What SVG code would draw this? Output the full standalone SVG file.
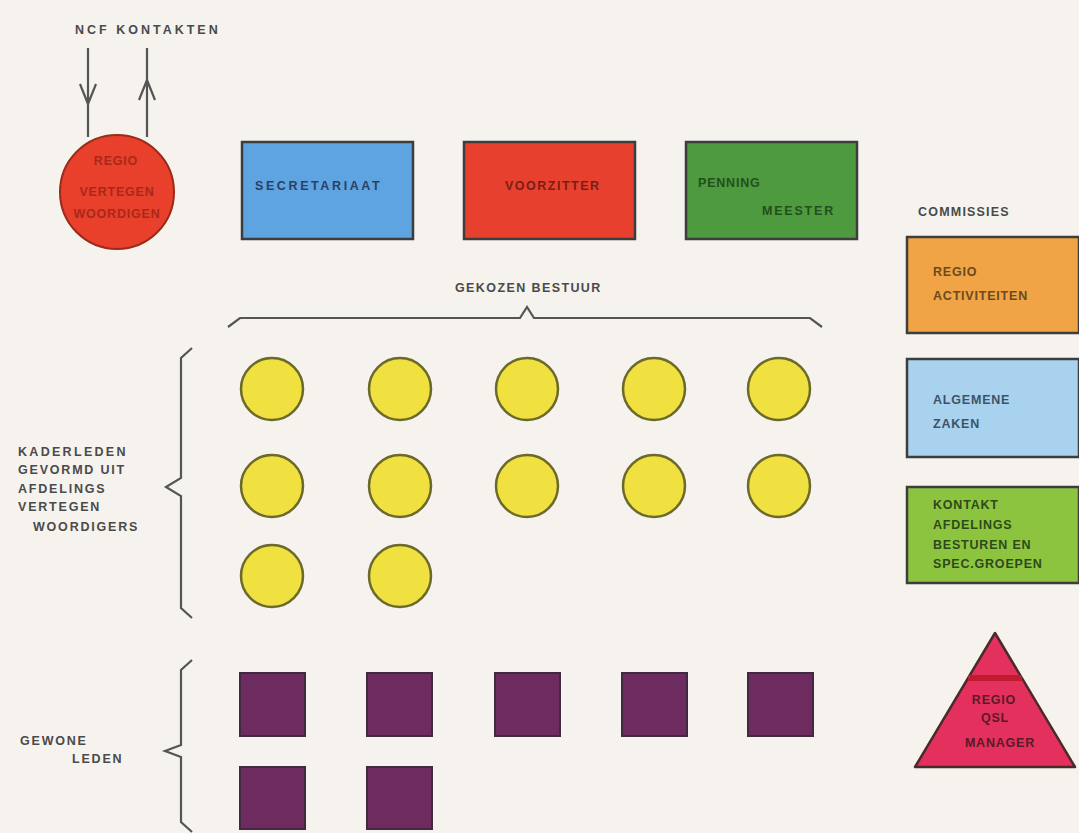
<svg xmlns="http://www.w3.org/2000/svg" width="1079" height="833" viewBox="0 0 1079 833">
<style>
.lbl{font-family:"Liberation Sans",Arial,sans-serif;font-size:12.5px;fill:#4a4a4a;letter-spacing:1.8px;font-weight:bold}
.in{font-family:"Liberation Sans",Arial,sans-serif;font-size:12.5px;letter-spacing:0.8px;font-weight:bold}
.box{stroke:#3d3d3d;stroke-width:2.5}
.dot{fill:#f0e040;stroke:#6b6a2a;stroke-width:2.5}
.sq{fill:#6e2b60;stroke:#3f2a40;stroke-width:2}
.ln{fill:none;stroke:#555;stroke-width:2.2;stroke-linejoin:miter}
</style>
<rect width="1079" height="833" fill="#f6f3ee"/>
<text class="lbl" x="75" y="34" style="letter-spacing:3px">NCF KONTAKTEN</text>
<g id="connectors">
<path class="ln" d="M88,48 L88,137 M80,84 L88,104 L96,84"/>
<path class="ln" d="M147,137 L147,48 M139,100 L147,80 L155,100"/>
</g>
<g id="regio-vertegenwoordigen">
<circle cx="117" cy="192" r="57" fill="#e8402a" stroke="#9a2a1a" stroke-width="2"/>
<text class="in" x="116" y="165" text-anchor="middle" fill="#a8281a" font-size="11">REGIO</text>
<text class="in" x="117" y="196" text-anchor="middle" fill="#a8281a" font-size="11">VERTEGEN</text>
<text class="in" x="117" y="218" text-anchor="middle" fill="#a8281a" font-size="11">WOORDIGEN</text>
</g>
<g id="secretariaat">
<rect class="box" x="242" y="142" width="171" height="97" fill="#5ea4e0"/>
<text class="in" x="255" y="190" fill="#2b3f66" style="letter-spacing:2.6px">SECRETARIAAT</text>
</g>
<g id="voorzitter">
<rect class="box" x="464" y="142" width="171" height="97" fill="#e8402f"/>
<text class="in" x="505" y="190" fill="#7a1e14" style="letter-spacing:1.5px">VOORZITTER</text>
</g>
<g id="penningmeester">
<rect class="box" x="686" y="142" width="171" height="97" fill="#4e9a3e"/>
<text class="in" x="698" y="187" fill="#234f1e">PENNING</text>
<text class="in" x="762" y="215" fill="#234f1e" style="letter-spacing:1.8px">MEESTER</text>
</g>
<g id="gekozen-bestuur">
<text class="lbl" x="455" y="292" style="letter-spacing:1.4px">GEKOZEN BESTUUR</text>
<path class="ln" d="M228,327 L240,318 L520,318 L527,307 L534,318 L810,318 L822,327"/>
</g>
<g id="kaderleden">
<text class="lbl" x="18" y="456" style="letter-spacing:2.3px">KADERLEDEN</text>
<text class="lbl" x="18" y="474">GEVORMD UIT</text>
<text class="lbl" x="18" y="493">AFDELINGS</text>
<text class="lbl" x="18" y="511">VERTEGEN</text>
<text class="lbl" x="33" y="531">WOORDIGERS</text>
<path class="ln" d="M192,348 L181,358 L181,478 L166,487 L181,496 L181,608 L192,618"/>
<circle class="dot" cx="272" cy="389" r="31"/>
<circle class="dot" cx="400" cy="389" r="31"/>
<circle class="dot" cx="527" cy="389" r="31"/>
<circle class="dot" cx="654" cy="389" r="31"/>
<circle class="dot" cx="779" cy="389" r="31"/>
<circle class="dot" cx="272" cy="486" r="31"/>
<circle class="dot" cx="400" cy="486" r="31"/>
<circle class="dot" cx="527" cy="486" r="31"/>
<circle class="dot" cx="654" cy="486" r="31"/>
<circle class="dot" cx="779" cy="486" r="31"/>
<circle class="dot" cx="272" cy="576" r="31"/>
<circle class="dot" cx="400" cy="576" r="31"/>
</g>
<g id="gewone-leden">
<text class="lbl" x="20" y="745">GEWONE</text>
<text class="lbl" x="72" y="763">LEDEN</text>
<path class="ln" d="M192,660 L181,670 L181,745 L165,751 L181,757 L181,822 L192,832"/>
<rect class="sq" x="240" y="673" width="65" height="63"/>
<rect class="sq" x="367" y="673" width="65" height="63"/>
<rect class="sq" x="495" y="673" width="65" height="63"/>
<rect class="sq" x="622" y="673" width="65" height="63"/>
<rect class="sq" x="748" y="673" width="65" height="63"/>
<rect class="sq" x="240" y="767" width="65" height="62"/>
<rect class="sq" x="367" y="767" width="65" height="62"/>
</g>
<text class="lbl" x="918" y="216" font-size="11" style="letter-spacing:1.2px">COMMISSIES</text>
<g id="regio-activiteiten">
<rect class="box" x="907" y="237" width="172" height="96" fill="#f0a445"/>
<text class="in" x="933" y="276" fill="#6a4a1e" font-size="11.5">REGIO</text>
<text class="in" x="933" y="300" fill="#6a4a1e" font-size="11.5">ACTIVITEITEN</text>
</g>
<g id="algemene-zaken">
<rect class="box" x="907" y="359" width="172" height="98" fill="#a9d2ef"/>
<text class="in" x="933" y="404" fill="#3c5468" font-size="11.5">ALGEMENE</text>
<text class="in" x="933" y="428" fill="#3c5468" font-size="11.5">ZAKEN</text>
</g>
<g id="kontakt">
<rect class="box" x="907" y="487" width="172" height="96" fill="#8dc43f"/>
<text class="in" x="933" y="509" fill="#2e4a1a" font-size="11.5">KONTAKT</text>
<text class="in" x="933" y="529" fill="#2e4a1a" font-size="11.5">AFDELINGS</text>
<text class="in" x="933" y="549" fill="#2e4a1a" font-size="11.5">BESTUREN EN</text>
<text class="in" x="933" y="568" fill="#2e4a1a" font-size="11.5">SPEC.GROEPEN</text>
</g>
<g id="qsl-manager">
<polygon points="995,633 915,767 1075,767" fill="#e3305c" stroke="#4a2a2a" stroke-width="2.5" stroke-linejoin="round"/>
<rect x="968" y="675" width="54" height="6" fill="#c01c30"/>
<text class="in" x="994" y="704" text-anchor="middle" fill="#5a1a28" font-size="11.5">REGIO</text>
<text class="in" x="995" y="722" text-anchor="middle" fill="#5a1a28" font-size="11.5">QSL</text>
<text class="in" x="1000" y="747" text-anchor="middle" fill="#5a1a28" font-size="11.5">MANAGER</text>
</g>
</svg>
